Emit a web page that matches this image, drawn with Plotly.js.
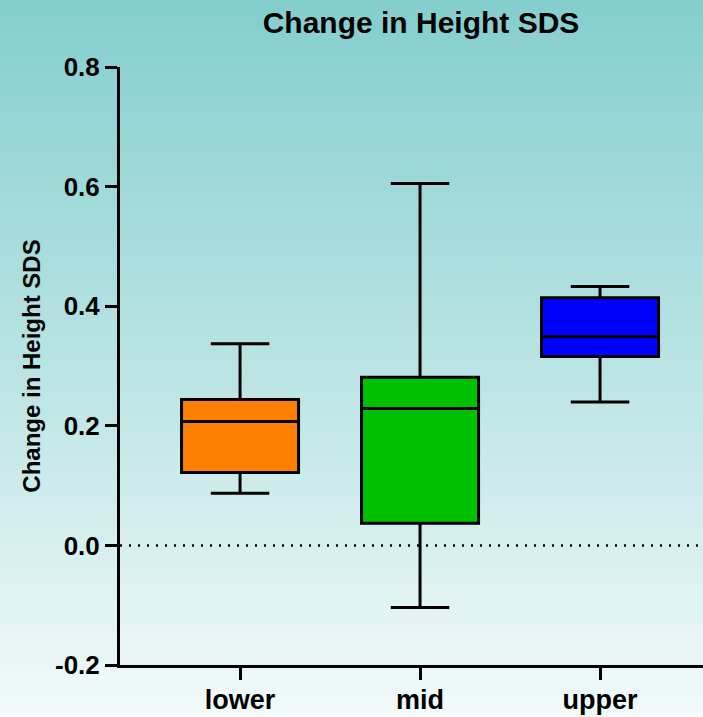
<!DOCTYPE html>
<html>
<head>
<meta charset="utf-8">
<script src="https://cdn.plot.ly/plotly-3.0.1.min.js"></script>
<style>
html,body{margin:0;padding:0;}
body{width:703px;height:717px;background:linear-gradient(to bottom,#84cece 0%,#b9e3e3 50%,#f3fafa 100%);}
#chart{width:703px;height:717px;}
</style>
</head>
<body>
<div id="chart"></div>
<script>
const categories = ["lower", "mid", "upper"];
const colors = ["#ff8000", "#00c000", "#0000ff"];
const minVals = [0.087, -0.104, 0.240];
const q1Vals = [0.122, 0.037, 0.316];
const medianVals = [0.207, 0.229, 0.349];
const q3Vals = [0.244, 0.281, 0.414];
const maxVals = [0.337, 0.605, 0.433];
const yTicks = [-0.2, 0.0, 0.2, 0.4, 0.6, 0.8];

const traces = categories.map((c, i) => ({
  type: "box",
  x: [c],
  q1: [q1Vals[i]],
  median: [medianVals[i]],
  q3: [q3Vals[i]],
  lowerfence: [minVals[i]],
  upperfence: [maxVals[i]],
  fillcolor: colors[i],
  line: {color: "#000", width: 3},
  width: 0.65,
  whiskerwidth: 0.5,
  boxpoints: false,
  hoverinfo: "skip",
  showlegend: false
}));

const font = {family: "Liberation Sans, Arial, sans-serif", color: "#000"};

const layout = {
  width: 703, height: 717,
  margin: {l: 120, r: 0, t: 67, b: 52},
  paper_bgcolor: "rgba(0,0,0,0)",
  plot_bgcolor: "rgba(0,0,0,0)",
  showlegend: false,
  title: {text: "<b>Change in Height SDS</b>", font: Object.assign({size: 30}, font),
          x: 421/703, xanchor: "center", y: 1 - 22/717, yanchor: "middle"},
  xaxis: {
    type: "category",
    range: [-0.667, 2.572],
    showline: true, linecolor: "#000", linewidth: 3,
    ticks: "outside", ticklen: 12, tickwidth: 3, tickcolor: "#000",
    ticklabelstandoff: -3,
    showgrid: false, zeroline: false,
    tickfont: Object.assign({size: 27}, font),
    tickprefix: "<b>", ticksuffix: "</b>",
    fixedrange: true
  },
  yaxis: {
    range: [-0.2, 0.8],
    tickvals: yTicks,
    ticktext: yTicks.map(v => "<b>" + v.toFixed(1) + "</b>"),
    showline: true, linecolor: "#000", linewidth: 3,
    ticks: "outside", ticklen: 12, tickwidth: 3, tickcolor: "#000",
    showgrid: false, zeroline: false,
    tickfont: Object.assign({size: 26}, font),
    title: {text: "<b>Change in Height SDS</b>", font: Object.assign({size: 24}, font), standoff: 8},
    fixedrange: true
  },
  shapes: [{
    type: "line", xref: "paper", yref: "y",
    x0: 0, x1: 1, y0: 0, y1: 0,
    line: {color: "#000", width: 2.5, dash: "2px,7px"},
    layer: "below"
  }]
};

Plotly.newPlot("chart", traces, layout, {displayModeBar: false, staticPlot: true});
</script>
</body>
</html>
